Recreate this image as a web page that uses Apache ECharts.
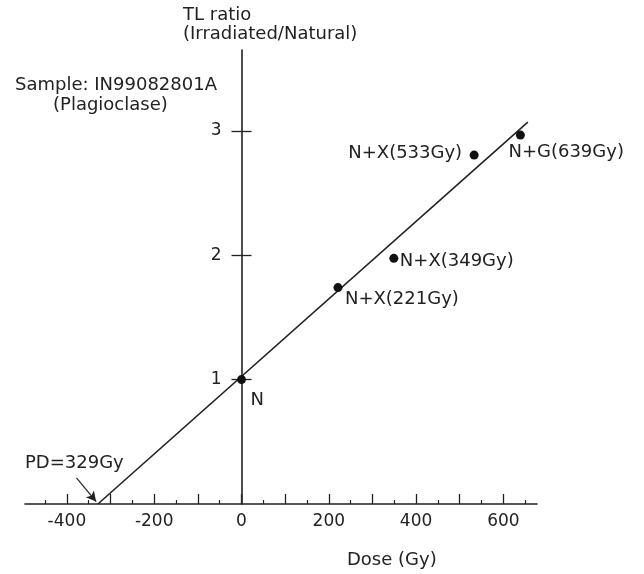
<!DOCTYPE html>
<html>
<head>
<meta charset="utf-8">
<script src="https://cdn.jsdelivr.net/npm/echarts@6.0.0/dist/echarts.min.js"></script>
<style>
html,body{margin:0;padding:0;background:#fff;}
#chart{width:644px;height:574px;}
</style>
</head>
<body>
<div id="chart"></div>
<script>
// ---- data ----
const pointNames = ['N', 'N+X(221Gy)', 'N+X(349Gy)', 'N+X(533Gy)', 'N+G(639Gy)'];
const pointDose = [0, 221, 349, 533, 639];
const pointRatio = [1.0, 1.74, 1.975, 2.805, 2.966];
const fitDose = [-329, 656];
const fitRatio = [0, 3.07];
const arrowDose = [-378, -333];
const arrowRatio = [0.21, 0.02];
const xMajorTicks = [-400, -300, -200, -100, 0, 100, 200, 300, 400, 500, 600];
const xMinorTicks = [-450, -350, -250, -150, -50, 50, 150, 250, 350, 450, 550, 650];
const xTickLabels = [-400, -200, 0, 200, 400, 600];
const yTickLabels = [1, 2, 3];
const yTickLabelText = ['1', '2', '3'];
const xRange = [-496, 677];
const yRange = [0, 3.65];
const yAxisTitle = ['TL ratio', '(Irradiated/Natural)'];
const xAxisTitle = 'Dose (Gy)';
const sampleText = ['Sample: IN99082801A', '(Plagioclase)'];
const pdText = 'PD=329Gy';

// ---- styling ----
const FONT = 'DejaVu Sans';
const TXT = '#222';
const LINE = '#222';
const GRID_LEFT = 25, GRID_RIGHT = 107, GRID_TOP = 50, GRID_BOTTOM = 70;

// label placement for each point (offset from the dot centre), style only
const labelPlace = [
  { align: 'left', offset: [9, 21] },
  { align: 'left', offset: [7, 12] },
  { align: 'left', offset: [6, 3] },
  { align: 'right', offset: [-12, -2] },
  { align: 'left', offset: [-12, 17] }
];

const scatterData = pointDose.map((d, i) => ({
  value: [d, pointRatio[i]],
  name: pointNames[i],
  label: {
    show: true,
    position: 'inside',
    align: labelPlace[i].align,
    verticalAlign: 'middle',
    offset: labelPlace[i].offset,
    formatter: pointNames[i],
    color: TXT,
    fontFamily: FONT,
    fontSize: 18
  }
}));

// pixel offset of the x = 0 line from the grid's left edge (for the y tick labels)
const plotWidth = 644 - GRID_LEFT - GRID_RIGHT;
const zeroOffset = plotWidth * (0 - xRange[0]) / (xRange[1] - xRange[0]);

const chart = echarts.init(document.getElementById('chart'), null, { renderer: 'canvas' });

const option = {
  backgroundColor: '#fff',
  animation: false,
  grid: { left: GRID_LEFT, right: GRID_RIGHT, top: GRID_TOP, bottom: GRID_BOTTOM, containLabel: false, outerBoundsMode: 'none' },
  xAxis: [
    {
      type: 'value', min: xRange[0], max: xRange[1],
      axisLine: { show: true, onZero: true, onZeroAxisIndex: 0, lineStyle: { color: LINE, width: 1.6 } },
      axisTick: { show: true, inside: true, length: 10, customValues: xMajorTicks, lineStyle: { color: LINE, width: 1.3 } },
      axisLabel: { show: true, customValues: xTickLabels, margin: 9, color: TXT, fontFamily: FONT, fontSize: 17 },
      splitLine: { show: false }
    },
    {
      type: 'value', min: xRange[0], max: xRange[1], position: 'bottom',
      axisLine: { show: false, onZero: true, onZeroAxisIndex: 0 },
      axisTick: { show: true, inside: true, length: 4, customValues: xMinorTicks, lineStyle: { color: LINE, width: 1.2 } },
      axisLabel: { show: false },
      splitLine: { show: false }
    }
  ],
  yAxis: [
    {
      type: 'value', min: yRange[0], max: yRange[1],
      axisLine: { show: true, onZero: true, onZeroAxisIndex: 0, lineStyle: { color: LINE, width: 1.6 } },
      axisTick: { show: true, inside: false, length: 10, customValues: yTickLabels, lineStyle: { color: LINE, width: 1.3 } },
      axisLabel: { show: false },
      splitLine: { show: false }
    },
    {
      type: 'value', min: yRange[0], max: yRange[1], position: 'left',
      axisLine: { show: false, onZero: true, onZeroAxisIndex: 0 },
      axisTick: { show: true, inside: true, length: 10, customValues: yTickLabels, lineStyle: { color: LINE, width: 1.3 } },
      axisLabel: { show: false },
      splitLine: { show: false }
    },
    {
      type: 'value', min: yRange[0], max: yRange[1], position: 'left',
      offset: -zeroOffset,
      axisLine: { show: false, onZero: false },
      axisTick: { show: false },
      axisLabel: {
        show: true, customValues: yTickLabels, margin: 20, color: TXT, fontFamily: FONT, fontSize: 17,
        formatter: v => yTickLabelText[yTickLabels.indexOf(v)] ?? String(v)
      },
      splitLine: { show: false }
    }
  ],
  series: [
    {
      type: 'line',
      xAxisIndex: 0, yAxisIndex: 0,
      data: fitDose.map((d, i) => [d, fitRatio[i]]),
      symbol: 'none',
      lineStyle: { color: LINE, width: 1.6 },
      z: 3,
      markLine: {
        silent: true,
        symbol: ['none', 'arrow'],
        symbolSize: [8, 10],
        label: { show: false },
        lineStyle: { color: LINE, width: 1.2, type: 'solid' },
        data: [[
          { coord: [arrowDose[0], arrowRatio[0]] },
          { coord: [arrowDose[1], arrowRatio[1]] }
        ]]
      }
    },
    {
      type: 'scatter',
      xAxisIndex: 0, yAxisIndex: 0,
      symbol: 'circle',
      symbolSize: 9,
      itemStyle: { color: '#111', opacity: 1 },
      data: scatterData,
      z: 4
    }
  ],
  graphic: [
    { type: 'text', x: 183, y: 15, style: { text: yAxisTitle[0], font: '18px ' + FONT, fill: TXT, align: 'left', verticalAlign: 'middle' } },
    { type: 'text', x: 183, y: 34, style: { text: yAxisTitle[1], font: '18px ' + FONT, fill: TXT, align: 'left', verticalAlign: 'middle' } },
    { type: 'text', x: 15, y: 85, style: { text: sampleText[0], font: '18px ' + FONT, fill: TXT, align: 'left', verticalAlign: 'middle' } },
    { type: 'text', x: 53, y: 105, style: { text: sampleText[1], font: '18px ' + FONT, fill: TXT, align: 'left', verticalAlign: 'middle' } },
    { type: 'text', x: 25, y: 463, style: { text: pdText, font: '18px ' + FONT, fill: TXT, align: 'left', verticalAlign: 'middle' } },
    { type: 'text', x: 347, y: 560, style: { text: xAxisTitle, font: '18px ' + FONT, fill: TXT, align: 'left', verticalAlign: 'middle' } }
  ]
};

chart.setOption(option);
</script>
</body>
</html>
